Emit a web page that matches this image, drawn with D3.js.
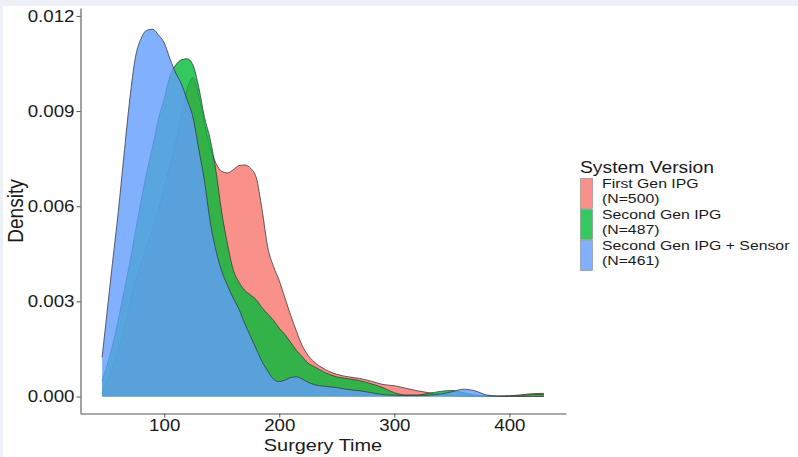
<!DOCTYPE html>
<html>
<head>
<meta charset="utf-8">
<script src="https://cdn.jsdelivr.net/npm/d3@7"></script>
<style>
  body { margin: 0; background: #eef0f7; }
  #chart { width: 798px; height: 457px; }
  text { font-family: "Liberation Sans", Arial, sans-serif; fill: #1a1a1a; }
</style>
</head>
<body>
<div id="chart"></div>
<script>
// surgery time grid (minutes) and estimated kernel densities
const surgeryTime = [46, 50, 55, 60, 65, 70, 75, 80, 85, 90, 95, 100, 105, 110, 115, 120, 125, 130, 135, 140,
  145, 150, 155, 160, 165, 170, 175, 180, 185, 190, 195, 200, 205, 210, 215, 220, 225, 230,
  240, 250, 260, 270, 280, 290, 300, 310, 320, 330, 340, 350, 360, 370, 380, 390, 400, 410, 420, 430];

const densityFirstGen = [0.10, 0.45, 0.95, 1.45, 2.1, 2.9, 3.6, 4.2, 4.75, 5.3, 5.9, 6.6, 7.3, 8.0, 8.9, 9.7, 10.05, 9.5, 8.6, 7.85,
  7.35, 7.1, 7.05, 7.15, 7.28, 7.3, 7.2, 6.9, 5.9, 4.7, 4.1, 3.65, 3.1, 2.55, 2.05, 1.6, 1.3, 1.1,
  0.85, 0.7, 0.62, 0.57, 0.48, 0.38, 0.34, 0.26, 0.18, 0.12, 0.06, 0.03, 0.02, 0.01, 0.01, 0.01, 0.02, 0.05, 0.09, 0.10];

const densitySecondGen = [0.5, 0.95, 1.6, 2.4, 3.3, 4.2, 5.2, 6.2, 7.1, 7.9, 8.75, 9.4, 10.1, 10.45, 10.62, 10.65, 10.45, 9.75, 8.8, 8.1,
  7.1, 5.8, 4.8, 4.0, 3.6, 3.35, 3.2, 3.05, 2.8, 2.6, 2.4, 2.15, 1.95, 1.7, 1.45, 1.25, 1.05, 0.95,
  0.75, 0.62, 0.56, 0.5, 0.4, 0.28, 0.12, 0.05, 0.05, 0.1, 0.16, 0.19, 0.12, 0.05, 0.02, 0.01, 0.02, 0.04, 0.06, 0.06];

const densitySensor = [1.23, 2.55, 4.2, 5.8, 7.6, 9.35, 10.7, 11.3, 11.55, 11.58, 11.4, 11.15, 10.65, 10.2, 9.85, 9.35, 8.8, 7.8, 6.8, 5.5,
  4.6, 3.95, 3.5, 3.1, 2.75, 2.3, 1.9, 1.5, 1.1, 0.8, 0.55, 0.47, 0.52, 0.6, 0.62, 0.55, 0.45, 0.38,
  0.32, 0.28, 0.22, 0.18, 0.12, 0.06, 0.04, 0.03, 0.03, 0.04, 0.08, 0.15, 0.23, 0.18, 0.05, 0.01, 0, 0, 0, 0];

const seriesNames = ["First Gen IPG", "Second Gen IPG", "Second Gen IPG + Sensor"];
const seriesCounts = [500, 487, 461];
const seriesColors = ["#F8766D", "#00BA38", "#619CFF"];

const xTicks = [100, 200, 300, 400];
const yTicks = [0, 0.003, 0.006, 0.009, 0.012];

const W = 798, H = 457;
const stretch = 1.17; // the reference is a little wider than tall

const svg = d3.select("#chart")
  .append("svg")
  .attr("width", W)
  .attr("height", H);

svg.append("rect")
  .attr("x", 3).attr("y", 6)
  .attr("width", W - 3).attr("height", H - 6)
  .attr("fill", "#fff");

const x = d3.scaleLinear()
  .domain([26.8, 449.2])
  .range([80, 566]);

const y = d3.scaleLinear()
  .domain([-0.00052, 0.01225])
  .range([413, 8]);

const series = [densityFirstGen, densitySecondGen, densitySensor].map((vals, i) => ({
  name: seriesNames[i],
  color: seriesColors[i],
  points: surgeryTime.map((t, j) => ({ t: t, d: vals[j] / 1000 }))
}));

const area = d3.area()
  .x(p => x(p.t))
  .y0(y(0))
  .y1(p => y(p.d))
  .curve(d3.curveMonotoneX);

const line = d3.line()
  .x(p => x(p.t))
  .y(p => y(p.d))
  .curve(d3.curveMonotoneX);

const plot = svg.append("g");

series.forEach(s => {
  plot.append("path")
    .attr("d", area(s.points))
    .attr("fill", s.color)
    .attr("fill-opacity", 0.8);
  plot.append("path")
    .attr("d", line(s.points))
    .attr("fill", "none")
    .attr("stroke", "#3a3a3a")
    .attr("stroke-width", 0.8);
});

function widen(sel) {
  sel.each(function() {
    const t = d3.select(this);
    const x0 = +t.attr("x") || 0;
    t.attr("x", x0 / stretch).attr("transform", `scale(${stretch},1)`);
  });
}

// Axes
const xAxis = svg.append("g")
  .attr("transform", "translate(0,413.5)")
  .call(d3.axisBottom(x).tickValues(xTicks).tickSize(4).tickPadding(2).tickSizeOuter(0));

const yAxis = svg.append("g")
  .attr("transform", "translate(80.5,0)")
  .call(d3.axisLeft(y).tickValues(yTicks).tickFormat(d3.format(".3f")).tickSize(4).tickPadding(2).tickSizeOuter(0));

[xAxis, yAxis].forEach(a => {
  a.select(".domain").attr("stroke", "#555").attr("stroke-width", 1.1);
  a.selectAll(".tick line").attr("stroke", "#555");
  a.selectAll(".tick text")
    .style("font-size", "16px")
    .attr("fill", "#1a1a1a")
    .call(widen);
});

svg.append("text")
  .attr("x", 323 / stretch).attr("y", 451)
  .attr("transform", `scale(${stretch},1)`)
  .attr("text-anchor", "middle")
  .style("font-size", "17px")
  .text("Surgery Time");

svg.append("text")
  .attr("transform", `translate(23,211) rotate(-90) scale(1,${stretch})`)
  .attr("text-anchor", "middle")
  .style("font-size", "19px")
  .text("Density");

// Legend
const legend = svg.append("g");

legend.append("text")
  .attr("x", 580 / stretch).attr("y", 173)
  .attr("transform", `scale(${stretch},1)`)
  .style("font-size", "16.5px")
  .text("System Version");

series.forEach((s, i) => {
  const top = 178 + i * 31;
  legend.append("rect")
    .attr("x", 580.5).attr("y", top + 0.5)
    .attr("width", 12).attr("height", 30)
    .attr("fill", s.color)
    .attr("fill-opacity", 0.8)
    .attr("stroke", "#888")
    .attr("stroke-width", 0.6);
  const label = legend.append("text")
    .attr("transform", `scale(${stretch},1)`)
    .style("font-size", "13.5px");
  label.append("tspan")
    .attr("x", 602 / stretch).attr("y", top + 10)
    .text(s.name);
  label.append("tspan")
    .attr("x", 602 / stretch).attr("y", top + 25)
    .text(`(N=${seriesCounts[i]})`);
});
</script>
</body>
</html>
